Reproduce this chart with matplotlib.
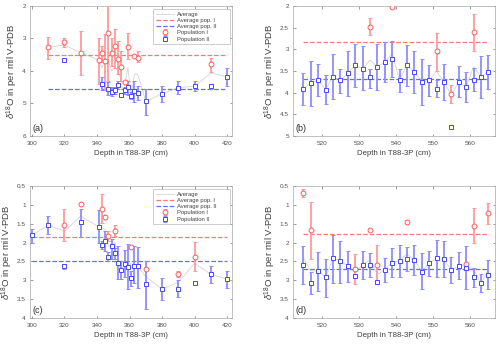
import matplotlib
matplotlib.use('Agg')
from matplotlib import pyplot as plt
from matplotlib.ticker import FormatStrFormatter

plt.rcParams['font.family'] = ['Liberation Sans', 'DejaVu Sans']
plt.rcParams['mathtext.fontset'] = 'custom'
plt.rcParams['mathtext.rm'] = 'Liberation Sans'
plt.rcParams['mathtext.it'] = 'Liberation Sans:italic'

# ---- panel (a) ----
a_d1 = [310, 320, 330, 341, 343, 345, 347, 349, 351, 353, 355, 357, 359, 363, 365, 410]
a_y1 = [3.28, 3.10, 3.45, 3.66, 3.45, 3.69, 2.82, 3.44, 3.23, 3.63, 3.89, 4.33, 3.25, 3.55, 3.60, 3.80]
a_lo1 = [2.95, 2.98, 2.78, 3.00, 3.23, 2.88, 1.80, 3.00, 2.70, 3.08, 3.40, 4.30, 2.82, 3.52, 3.40, 3.60]
a_hi1 = [3.62, 3.26, 4.13, 4.40, 3.74, 4.60, 4.30, 3.85, 3.90, 4.10, 4.30, 4.37, 3.64, 3.58, 3.74, 4.03]
a_d2 = [320, 343, 347, 349, 351, 353, 355, 357, 359, 361, 363, 365, 370, 380, 390, 400, 410, 420]
a_y2 = [3.68, 4.39, 4.55, 4.64, 4.60, 4.43, 4.74, 4.60, 4.50, 4.76, 4.63, 4.68, 4.94, 4.70, 4.52, 4.47, 4.47, 4.18]
a_lo2 = [3.65, 4.18, 4.35, 4.50, 4.50, 4.32, 4.70, 4.50, 4.30, 4.65, 4.30, 4.45, 4.55, 4.45, 4.32, 4.30, 4.40, 3.92]
a_hi2 = [3.71, 4.60, 4.75, 4.78, 4.70, 4.55, 4.78, 4.70, 4.75, 4.87, 4.95, 4.90, 5.35, 4.97, 4.70, 4.63, 4.55, 4.45]
a_da = [310, 320, 330, 341, 343, 345, 347, 349, 351, 353, 355, 357, 359, 361, 363, 365, 370, 380, 390, 400, 410, 420]
a_ya = [3.28, 3.20, 3.45, 3.66, 3.90, 3.69, 3.70, 4.00, 3.90, 4.00, 4.30, 4.45, 3.90, 4.76, 4.10, 4.10, 4.94, 4.70, 4.52, 4.47, 4.07, 4.18]
a_avg1, a_avg2 = 3.52, 4.55

# ---- panel (b) ----
b_d1 = [533, 539, 551, 555, 561]
b_y1 = [2.48, 2.03, 3.05, 4.04, 2.60]
b_lo1 = [2.28, 2.00, 2.62, 3.83, 2.18]
b_hi1 = [2.68, 2.06, 3.50, 4.23, 3.04]
b_d2 = [515, 517, 519, 521, 523, 525, 527, 529, 531, 533, 535, 537, 539, 541, 543, 545, 547, 549, 551, 553, 555, 557, 559, 561, 563, 565]
b_y2 = [3.91, 3.78, 3.71, 3.93, 3.63, 3.72, 3.55, 3.37, 3.45, 3.64, 3.40, 3.30, 3.22, 3.72, 3.36, 3.53, 3.75, 3.72, 3.91, 3.76, 4.79, 3.75, 3.88, 3.71, 3.63, 3.53]
b_lo2 = [3.55, 3.28, 3.34, 3.60, 3.10, 3.45, 3.04, 2.87, 2.93, 3.45, 2.87, 2.83, 2.80, 3.45, 2.90, 3.05, 3.22, 3.37, 3.72, 3.34, 4.76, 3.38, 3.53, 3.43, 3.15, 3.13]
b_hi2 = [4.29, 4.32, 4.08, 4.26, 4.15, 4.00, 4.08, 3.86, 3.95, 3.89, 3.94, 3.76, 3.64, 3.99, 3.84, 4.02, 4.29, 4.07, 4.10, 4.17, 4.82, 4.10, 4.22, 3.97, 4.13, 3.92]
b_ya = [3.91, 3.78, 3.71, 3.93, 3.63, 3.72, 3.55, 3.37, 3.45, 3.25, 3.40, 3.30, 3.10, 3.72, 3.36, 3.53, 3.75, 3.72, 3.50, 3.76, 4.05, 3.75, 3.88, 3.40, 3.63, 3.53]
b_avg1, b_avg2 = 2.84, 3.69

# ---- panel (c) ----
c_d1 = [320, 330, 343, 345, 347, 351, 361, 370, 390, 400]
c_y1 = [1.53, 0.98, 1.11, 1.31, 1.82, 1.69, 2.13, 2.70, 2.84, 2.39]
c_lo1 = [1.11, 0.95, 0.70, 1.28, 1.69, 1.54, 2.10, 2.67, 2.75, 1.98]
c_hi1 = [1.95, 1.01, 1.48, 1.35, 1.95, 1.82, 2.16, 2.73, 2.92, 2.75]
c_d2 = [300, 310, 320, 330, 341, 343, 345, 347, 349, 351, 353, 355, 357, 359, 361, 363, 365, 370, 380, 390, 400, 410, 420]
c_y2 = [1.80, 1.54, 2.63, 1.46, 1.58, 2.07, 1.95, 2.38, 2.08, 2.28, 2.53, 2.72, 2.57, 2.64, 2.95, 2.61, 2.63, 3.10, 3.23, 3.22, 3.08, 2.84, 2.97]
c_lo2 = [1.64, 1.30, 2.58, 1.11, 1.15, 1.95, 1.69, 2.26, 1.90, 2.14, 2.10, 2.50, 2.20, 2.04, 2.75, 2.10, 2.13, 2.48, 2.95, 2.99, 3.05, 2.63, 2.75]
c_hi2 = [2.00, 1.77, 2.70, 1.84, 2.01, 2.17, 2.22, 2.48, 2.44, 2.44, 2.97, 2.97, 2.92, 3.23, 3.15, 3.06, 3.19, 3.77, 3.52, 3.43, 3.11, 3.06, 3.19]
c_ya = [1.80, 1.54, 1.70, 1.30, 1.58, 1.60, 1.65, 2.10, 2.08, 2.00, 2.53, 2.72, 2.57, 2.64, 2.55, 2.61, 2.63, 2.90, 3.23, 3.05, 2.55, 2.84, 2.97]
c_avg1, c_avg2 = 1.86, 2.48

# ---- panel (d) ----
d_d1 = [515, 517, 529, 533, 535, 543, 559, 561, 565]
d_y1 = [0.69, 1.66, 2.70, 1.67, 2.59, 1.45, 2.57, 1.55, 1.22]
d_lo1 = [0.59, 0.92, 2.30, 1.64, 2.06, 1.40, 2.54, 1.09, 0.95]
d_hi1 = [0.79, 2.44, 3.10, 1.70, 3.10, 1.50, 2.60, 2.00, 1.51]
d_d2 = b_d2
d_y2 = [2.60, 3.06, 2.75, 2.92, 2.42, 2.48, 2.63, 2.88, 2.59, 2.59, 3.04, 2.72, 2.53, 2.48, 2.44, 2.46, 2.77, 2.54, 2.42, 2.44, 2.73, 2.61, 2.66, 2.90, 3.08, 2.86]
d_lo2 = [2.08, 2.77, 2.26, 2.44, 1.80, 1.95, 2.22, 2.84, 2.22, 2.28, 3.00, 2.41, 2.15, 2.07, 2.13, 2.06, 2.28, 2.22, 1.93, 1.97, 2.39, 2.24, 2.08, 2.66, 2.84, 2.46]
d_hi2 = [3.10, 3.35, 3.28, 3.43, 3.06, 3.06, 3.04, 2.92, 2.97, 2.92, 3.10, 3.04, 2.91, 2.92, 2.75, 2.85, 3.23, 2.88, 2.91, 2.91, 3.06, 2.97, 3.22, 3.17, 3.32, 3.23]
d_ya = [2.40, 2.75, 2.75, 2.92, 2.42, 2.48, 2.63, 2.80, 2.59, 2.45, 2.85, 2.72, 2.53, 2.48, 2.30, 2.46, 2.77, 2.54, 2.42, 2.44, 2.73, 2.61, 2.62, 2.70, 3.08, 2.70]
d_avg1, d_avg2 = 1.78, 2.69

RED_BAR = '#ff9a9a'
RED_MK = '#ff5c5c'
BLUE_BAR = '#8c8cff'
BLUE_MK = '#4646ff'
GRAY = '#d4d4d4'


def panel(ax, da, ya, d1, y1, lo1, hi1, d2, y2, lo2, hi2, avg1, avg2, xlim, ylim, xticks, yticks, label, legend):
    ax.plot(da, ya, '-', color=GRAY, lw=0.6, label='Average', zorder=1)
    span = [min(da + d1 + d2), max(da + d1 + d2)]
    ax.plot(span, [avg1, avg1], '--', color='#ff7878', lw=0.9, label='Average pop. I', zorder=2)
    ax.plot(span, [avg2, avg2], '--', color='#6a6aff', lw=0.9, label='Average pop. II', zorder=2)
    e1 = [[y - l for y, l in zip(y1, lo1)], [h - y for y, h in zip(y1, hi1)]]
    e2 = [[y - l for y, l in zip(y2, lo2)], [h - y for y, h in zip(y2, hi2)]]
    ax.errorbar(d1, y1, yerr=e1, fmt='o', ms=3.5, mfc='white', mec=RED_MK, mew=0.7,
                ecolor=RED_BAR, elinewidth=1.3, capsize=1.7, capthick=0.8, label='Population I', zorder=3)
    ax.errorbar(d2, y2, yerr=e2, fmt='s', ms=3.2, mfc='white', mec=BLUE_MK, mew=0.7,
                ecolor=BLUE_BAR, elinewidth=1.3, capsize=1.7, capthick=0.8, label='Population II', zorder=3)
    ax.set_xlim(xlim)
    ax.set_ylim(ylim)
    ax.invert_yaxis()
    ax.set_xticks(xticks)
    ax.set_yticks(yticks)
    ax.yaxis.set_major_formatter(FormatStrFormatter('%g'))
    ax.tick_params(direction='in', top=True, right=True, labelsize=4.6, length=1.8,
                   width=0.4, colors='#505050')
    ax.tick_params(axis='x', pad=3.6)
    ax.tick_params(axis='y', pad=3.0)
    for s in ax.spines.values():
        s.set_color('#a8a8a8')
        s.set_linewidth(0.5)
    ax.set_xlabel('Depth in T88-3P (cm)', fontsize=5.6, color='#404040', labelpad=3)
    ax.set_ylabel(r'$\delta^{18}$O in per mil V-PDB', fontsize=6.8, color='#404040', labelpad=1.5)
    ax.text(0.012, 0.035, label, transform=ax.transAxes, fontsize=6.5, color='#303030')
    if legend:
        lg = ax.legend(loc='upper left', mode='expand', fontsize=4.2, frameon=True, fancybox=False,
                       borderpad=0.45, labelspacing=0.2, handlelength=3.2, handletextpad=0.5,
                       bbox_to_anchor=(0.609, 0.0, 0.381, 0.977), borderaxespad=0.0)
        lg.get_frame().set_edgecolor('#a8a8a8')
        lg.get_frame().set_linewidth(0.5)
        for t in lg.get_texts():
            t.set_color('#404040')


fig = plt.figure(figsize=(5.0, 3.45), dpi=100)
ax_a = fig.add_axes([0.06, 0.606, 0.404, 0.377])
ax_b = fig.add_axes([0.586, 0.606, 0.404, 0.377])
ax_c = fig.add_axes([0.06, 0.078, 0.404, 0.383])
ax_d = fig.add_axes([0.586, 0.078, 0.404, 0.383])

x_ac = [300, 320, 340, 360, 380, 400, 420]
x_bd = [520, 530, 540, 550, 560]

panel(ax_a, a_da, a_ya, a_d1, a_y1, a_lo1, a_hi1, a_d2, a_y2, a_lo2, a_hi2, a_avg1, a_avg2,
      (298.8, 423), (2, 6), x_ac, [2, 3, 4, 5, 6], '(a)', True)
panel(ax_b, b_d2, b_ya, b_d1, b_y1, b_lo1, b_hi1, b_d2, b_y2, b_lo2, b_hi2, b_avg1, b_avg2,
      (512.2, 566.8), (2, 5), x_bd, [2, 2.5, 3, 3.5, 4, 4.5, 5], '(b)', False)
panel(ax_c, c_d2, c_ya, c_d1, c_y1, c_lo1, c_hi1, c_d2, c_y2, c_lo2, c_hi2, c_avg1, c_avg2,
      (298.8, 423), (0.5, 4), x_ac, [0.5, 1, 1.5, 2, 2.5, 3, 3.5, 4], '(c)', True)
panel(ax_d, d_d2, d_ya, d_d1, d_y1, d_lo1, d_hi1, d_d2, d_y2, d_lo2, d_hi2, d_avg1, d_avg2,
      (512.2, 566.8), (0.5, 4), x_bd, [0.5, 1, 1.5, 2, 2.5, 3, 3.5, 4], '(d)', False)

plt.savefig('out.png', dpi=100)
